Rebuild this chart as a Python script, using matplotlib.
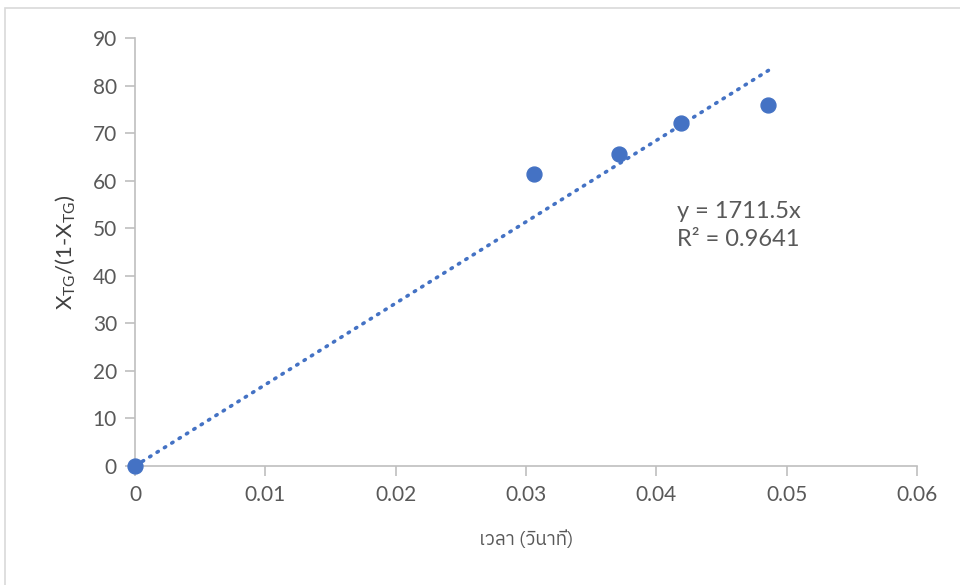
import matplotlib.pyplot as plt
from matplotlib.patches import Rectangle
from matplotlib import font_manager

# data
time_s = [0, 0.0306, 0.0371, 0.0419, 0.0486]
ratio = [0, 61.4, 65.6, 72.1, 75.9]
slope = 1711.5
r2 = 0.9641
x_ticks = [0, 0.01, 0.02, 0.03, 0.04, 0.05, 0.06]
y_ticks = list(range(0, 100, 10))

blue = '#4472C4'
txt = '#595959'

# look for something that can draw Thai
thai = None
for f in font_manager.fontManager.ttflist:
    if 'Thai' in f.name:
        thai = f.name
        break
base = ['Lato', 'DejaVu Sans']
plt.rcParams['font.family'] = base
plt.rcParams['mathtext.fontset'] = 'custom'
plt.rcParams['mathtext.rm'] = 'Lato'
plt.rcParams['mathtext.it'] = 'Lato:italic'

fig = plt.figure(figsize=(9.6, 5.85), dpi=100)
fig.patches.append(Rectangle((5 / 960, -0.02), 1.0, 1 - 8 / 585 + 0.02,
                             transform=fig.transFigure, fill=False,
                             edgecolor='#d9d9d9', linewidth=1.2))
ax = fig.add_axes([135 / 960, 1 - 466 / 585, (917 - 135) / 960, (466 - 38) / 585])

xs = [0, max(time_s)]
ax.plot(xs, [slope * x for x in xs], color=blue, lw=2.6,
        linestyle=(0, (0.4, 2.0)), dash_capstyle='round', zorder=2)
ax.scatter(time_s, ratio, s=115, color=blue, zorder=3, clip_on=False)

ax.set_xlim(0, 0.06)
ax.set_ylim(0, 90)
ax.set_xticks(x_ticks)
ax.set_xticklabels(['0' if v == 0 else f'{v:g}' for v in x_ticks])
ax.set_yticks(y_ticks)

for s in ['top', 'right']:
    ax.spines[s].set_visible(False)
for s in ['left', 'bottom']:
    ax.spines[s].set_color('#bfbfbf')
    ax.spines[s].set_linewidth(1.2)
ax.tick_params(colors='#bfbfbf', labelcolor=txt, labelsize=15, length=7, width=1.2)
ax.tick_params(axis='x', pad=7)
ax.tick_params(axis='y', pad=6)

ax.set_ylabel(r'X$_{\mathrm{TG}}$/(1-X$_{\mathrm{TG}}$)', fontsize=16, color='#404040', labelpad=11)
xl_fam = [thai] + base if thai else base
ax.set_xlabel('เวลา (วินาที)', fontsize=13.5, color=txt, labelpad=18, family=xl_fam)

ax.text(0.0416, 55.8, f'y = {slope}x\nR² = {r2}', fontsize=17, color=txt,
        va='top', ha='left', linespacing=1.45)

fig.savefig('out.png', dpi=100)
